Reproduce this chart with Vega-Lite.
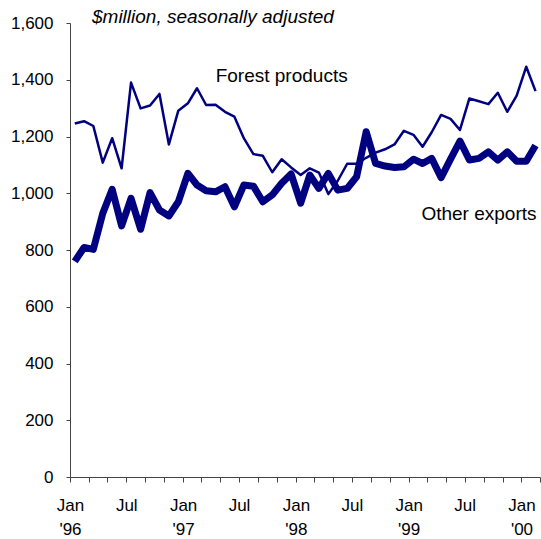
{
  "$schema": "https://vega.github.io/schema/vega-lite/v6.json",
  "width": 470,
  "height": 454,
  "autosize": {"type": "none"},
  "padding": {"left": 70, "top": 23, "right": 1, "bottom": 62},
  "background": "white",
  "config": {"view": {"stroke": null}, "font": "Liberation Sans"},
  "title": {
    "text": "$million, seasonally adjusted",
    "anchor": "start",
    "frame": "group",
    "orient": "top",
    "offset": 0,
    "dx": 22,
    "dy": 28,
    "baseline": "alphabetic",
    "font": "Liberation Sans",
    "fontSize": 19,
    "fontStyle": "italic",
    "fontWeight": "normal",
    "color": "#000000"
  },
  "datasets": {
    "series": [
      {"date": "1996-01", "series": "Forest products", "value": 1246},
      {"date": "1996-02", "series": "Forest products", "value": 1254},
      {"date": "1996-03", "series": "Forest products", "value": 1237},
      {"date": "1996-04", "series": "Forest products", "value": 1108},
      {"date": "1996-05", "series": "Forest products", "value": 1194},
      {"date": "1996-06", "series": "Forest products", "value": 1088},
      {"date": "1996-07", "series": "Forest products", "value": 1390},
      {"date": "1996-08", "series": "Forest products", "value": 1299},
      {"date": "1996-09", "series": "Forest products", "value": 1309},
      {"date": "1996-10", "series": "Forest products", "value": 1350},
      {"date": "1996-11", "series": "Forest products", "value": 1172},
      {"date": "1996-12", "series": "Forest products", "value": 1291},
      {"date": "1997-01", "series": "Forest products", "value": 1317},
      {"date": "1997-02", "series": "Forest products", "value": 1370},
      {"date": "1997-03", "series": "Forest products", "value": 1311},
      {"date": "1997-04", "series": "Forest products", "value": 1312},
      {"date": "1997-05", "series": "Forest products", "value": 1287},
      {"date": "1997-06", "series": "Forest products", "value": 1270},
      {"date": "1997-07", "series": "Forest products", "value": 1194},
      {"date": "1997-08", "series": "Forest products", "value": 1138},
      {"date": "1997-09", "series": "Forest products", "value": 1132},
      {"date": "1997-10", "series": "Forest products", "value": 1074},
      {"date": "1997-11", "series": "Forest products", "value": 1120},
      {"date": "1997-12", "series": "Forest products", "value": 1091},
      {"date": "1998-01", "series": "Forest products", "value": 1064},
      {"date": "1998-02", "series": "Forest products", "value": 1088},
      {"date": "1998-03", "series": "Forest products", "value": 1073},
      {"date": "1998-04", "series": "Forest products", "value": 997},
      {"date": "1998-05", "series": "Forest products", "value": 1044},
      {"date": "1998-06", "series": "Forest products", "value": 1104},
      {"date": "1998-07", "series": "Forest products", "value": 1104},
      {"date": "1998-08", "series": "Forest products", "value": 1125},
      {"date": "1998-09", "series": "Forest products", "value": 1143},
      {"date": "1998-10", "series": "Forest products", "value": 1155},
      {"date": "1998-11", "series": "Forest products", "value": 1172},
      {"date": "1998-12", "series": "Forest products", "value": 1220},
      {"date": "1999-01", "series": "Forest products", "value": 1206},
      {"date": "1999-02", "series": "Forest products", "value": 1164},
      {"date": "1999-03", "series": "Forest products", "value": 1215},
      {"date": "1999-04", "series": "Forest products", "value": 1276},
      {"date": "1999-05", "series": "Forest products", "value": 1262},
      {"date": "1999-06", "series": "Forest products", "value": 1223},
      {"date": "1999-07", "series": "Forest products", "value": 1334},
      {"date": "1999-08", "series": "Forest products", "value": 1324},
      {"date": "1999-09", "series": "Forest products", "value": 1314},
      {"date": "1999-10", "series": "Forest products", "value": 1354},
      {"date": "1999-11", "series": "Forest products", "value": 1287},
      {"date": "1999-12", "series": "Forest products", "value": 1344},
      {"date": "2000-01", "series": "Forest products", "value": 1446},
      {"date": "2000-02", "series": "Forest products", "value": 1360},
      {"date": "1996-01", "series": "Other exports", "value": 760},
      {"date": "1996-02", "series": "Other exports", "value": 809},
      {"date": "1996-03", "series": "Other exports", "value": 802},
      {"date": "1996-04", "series": "Other exports", "value": 929},
      {"date": "1996-05", "series": "Other exports", "value": 1014},
      {"date": "1996-06", "series": "Other exports", "value": 885},
      {"date": "1996-07", "series": "Other exports", "value": 982},
      {"date": "1996-08", "series": "Other exports", "value": 873},
      {"date": "1996-09", "series": "Other exports", "value": 1002},
      {"date": "1996-10", "series": "Other exports", "value": 941},
      {"date": "1996-11", "series": "Other exports", "value": 920},
      {"date": "1996-12", "series": "Other exports", "value": 970},
      {"date": "1997-01", "series": "Other exports", "value": 1070},
      {"date": "1997-02", "series": "Other exports", "value": 1029},
      {"date": "1997-03", "series": "Other exports", "value": 1009},
      {"date": "1997-04", "series": "Other exports", "value": 1005},
      {"date": "1997-05", "series": "Other exports", "value": 1023},
      {"date": "1997-06", "series": "Other exports", "value": 952},
      {"date": "1997-07", "series": "Other exports", "value": 1029},
      {"date": "1997-08", "series": "Other exports", "value": 1025},
      {"date": "1997-09", "series": "Other exports", "value": 970},
      {"date": "1997-10", "series": "Other exports", "value": 994},
      {"date": "1997-11", "series": "Other exports", "value": 1035},
      {"date": "1997-12", "series": "Other exports", "value": 1068},
      {"date": "1998-01", "series": "Other exports", "value": 965},
      {"date": "1998-02", "series": "Other exports", "value": 1064},
      {"date": "1998-03", "series": "Other exports", "value": 1017},
      {"date": "1998-04", "series": "Other exports", "value": 1070},
      {"date": "1998-05", "series": "Other exports", "value": 1011},
      {"date": "1998-06", "series": "Other exports", "value": 1017},
      {"date": "1998-07", "series": "Other exports", "value": 1058},
      {"date": "1998-08", "series": "Other exports", "value": 1217},
      {"date": "1998-09", "series": "Other exports", "value": 1105},
      {"date": "1998-10", "series": "Other exports", "value": 1096},
      {"date": "1998-11", "series": "Other exports", "value": 1091},
      {"date": "1998-12", "series": "Other exports", "value": 1093},
      {"date": "1999-01", "series": "Other exports", "value": 1120},
      {"date": "1999-02", "series": "Other exports", "value": 1105},
      {"date": "1999-03", "series": "Other exports", "value": 1123},
      {"date": "1999-04", "series": "Other exports", "value": 1055},
      {"date": "1999-05", "series": "Other exports", "value": 1120},
      {"date": "1999-06", "series": "Other exports", "value": 1184},
      {"date": "1999-07", "series": "Other exports", "value": 1117},
      {"date": "1999-08", "series": "Other exports", "value": 1123},
      {"date": "1999-09", "series": "Other exports", "value": 1146},
      {"date": "1999-10", "series": "Other exports", "value": 1117},
      {"date": "1999-11", "series": "Other exports", "value": 1146},
      {"date": "1999-12", "series": "Other exports", "value": 1113},
      {"date": "2000-01", "series": "Other exports", "value": 1113},
      {"date": "2000-02", "series": "Other exports", "value": 1168}
    ],
    "labels": [
      {"date": "1997-11", "value": 1413, "label": "Forest products"},
      {"date": "1999-08", "value": 927, "label": "Other exports"}
    ]
  },
  "encoding": {
    "x": {
      "field": "date",
      "timeUnit": "utcyearmonth",
      "type": "temporal",
      "bandPosition": 0.5,
      "scale": {
        "domain": [
          {"year": 1996, "month": 1, "date": 1, "utc": true},
          {"year": 2000, "month": 3, "date": 1, "utc": true}
        ],
        "nice": false
      },
      "axis": {
        "title": null,
        "grid": false,
        "tickCount": {"interval": "month", "step": 2},
        "labelExpr": "utcFormat(datum.value, '%m') == '01' ? ['Jan', \"'\" + utcFormat(datum.value, '%y')] : (utcFormat(datum.value, '%m') == '07' ? 'Jul' : '')",
        "labelOverlap": false,
        "labelFlush": false,
        "labelBound": false,
        "labelDx": 4.7,
        "labelFont": "Liberation Sans",
        "labelFontSize": 17,
        "labelColor": "#000000",
        "labelPadding": 15,
        "labelLineHeight": 24,
        "tickSize": 5,
        "tickColor": "#444444",
        "domainColor": "#444444"
      }
    },
    "y": {
      "field": "value",
      "type": "quantitative",
      "scale": {"domain": [0, 1600], "nice": false},
      "axis": {
        "title": null,
        "grid": false,
        "values": [0, 200, 400, 600, 800, 1000, 1200, 1400, 1600],
        "format": ",.0f",
        "labelFont": "Liberation Sans",
        "labelFontSize": 17,
        "labelColor": "#000000",
        "labelPadding": 13,
        "tickSize": 4,
        "tickColor": "#444444",
        "domainColor": "#444444"
      }
    }
  },
  "layer": [
    {
      "data": {"name": "series"},
      "transform": [{"filter": "datum.series == 'Forest products'"}],
      "mark": {"type": "line", "color": "#000080", "strokeWidth": 2.5, "strokeJoin": "round"}
    },
    {
      "data": {"name": "series"},
      "transform": [{"filter": "datum.series == 'Other exports'"}],
      "mark": {"type": "line", "color": "#000080", "strokeWidth": 7, "strokeJoin": "round"}
    },
    {
      "data": {"name": "labels"},
      "mark": {"type": "text", "font": "Liberation Sans", "fontSize": 19, "color": "#000000", "align": "center", "baseline": "middle"},
      "encoding": {"text": {"field": "label"}}
    }
  ]
}
